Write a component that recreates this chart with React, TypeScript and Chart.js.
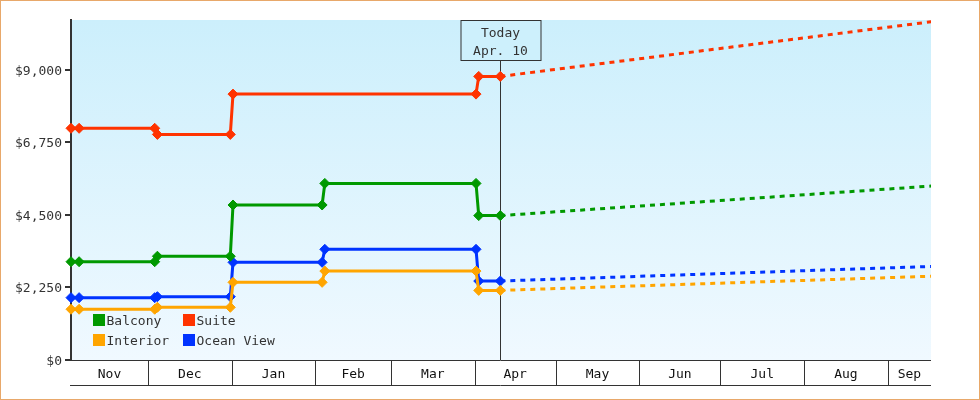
import React, { useEffect, useRef } from "react";
import { Chart, registerables } from "chart.js";
Chart.register(...registerables);

const BASE = Date.UTC(2022, 10, 1);
const toDay = (s: string) => (Date.parse(s + "T00:00:00Z") - BASE) / 864e5 + 0.5;

const seriesLabels = ["Balcony", "Suite", "Interior", "Ocean View"];
const seriesColors = ["#009900", "#FF3300", "#FFA500", "#0033FF"];

const balconyDates = ["2022-11-02", "2022-11-05", "2022-12-03", "2022-12-04", "2022-12-31", "2023-01-01", "2023-02-03", "2023-02-04", "2023-04-01", "2023-04-02", "2023-04-10"];
const balconyPrices = [3050, 3050, 3050, 3220, 3220, 4810, 4810, 5480, 5480, 4480, 4480];

const suiteDates = ["2022-11-02", "2022-11-05", "2022-12-03", "2022-12-04", "2022-12-31", "2023-01-01", "2023-04-01", "2023-04-02", "2023-04-10"];
const suitePrices = [7190, 7190, 7190, 7000, 7000, 8250, 8250, 8800, 8800];

const interiorDates = ["2022-11-02", "2022-11-05", "2022-12-03", "2022-12-04", "2022-12-31", "2023-01-01", "2023-02-03", "2023-02-04", "2023-04-01", "2023-04-02", "2023-04-10"];
const interiorPrices = [1575, 1575, 1575, 1635, 1635, 2410, 2410, 2760, 2760, 2160, 2160];

const oceanDates = ["2022-11-02", "2022-11-05", "2022-12-03", "2022-12-04", "2022-12-31", "2023-01-01", "2023-02-03", "2023-02-04", "2023-04-01", "2023-04-02", "2023-04-10"];
const oceanPrices = [1935, 1935, 1935, 1965, 1965, 3030, 3030, 3435, 3435, 2450, 2450];

const forecastDates = ["2023-04-10", "2023-09-17"];
const balconyForecast = [4480, 5400];
const suiteForecast = [8800, 10500];
const interiorForecast = [2160, 2600];
const oceanForecast = [2450, 2905];

const monthLabels = ["Nov", "Dec", "Jan", "Feb", "Mar", "Apr", "May", "Jun", "Jul", "Aug", "Sep"];
const monthStarts = ["2022-11-01", "2022-12-01", "2023-01-01", "2023-02-01", "2023-03-01", "2023-04-01", "2023-05-01", "2023-06-01", "2023-07-01", "2023-08-01", "2023-09-01", "2023-10-01"];

const yTicks = [0, 2250, 4500, 6750, 9000];
const yMax = 10550;
const xMin = toDay("2022-11-02");
const xMax = toDay("2023-09-16") + 0.5;
const todayDate = "2023-04-10";
const todayLines = ["Today", "Apr. 10"];

const FONT = "DejaVu Sans Mono";
const TEXT = "#333333";

const pts = (dates: string[], vals: number[]) => dates.map((d, i) => ({ x: toDay(d), y: vals[i] }));

export default function App() {
  const ref = useRef<HTMLCanvasElement | null>(null);
  useEffect(() => {
    document.body.style.margin = "0";
    const canvas = ref.current!;
    const boundaries = monthStarts.map((d) => toDay(d) - 0.5);
    const mids = monthLabels.map((_, i) => {
      const a = Math.max(boundaries[i], xMin);
      const b = Math.min(boundaries[i + 1], xMax);
      return (a + b) / 2;
    });

    const mainSets = [
      pts(balconyDates, balconyPrices),
      pts(suiteDates, suitePrices),
      pts(interiorDates, interiorPrices),
      pts(oceanDates, oceanPrices),
    ];
    const fcSets = [
      pts(forecastDates, balconyForecast),
      pts(forecastDates, suiteForecast),
      pts(forecastDates, interiorForecast),
      pts(forecastDates, oceanForecast),
    ];

    const datasets: any[] = [];
    mainSets.forEach((data, i) => {
      datasets.push({
        label: seriesLabels[i],
        data,
        borderColor: seriesColors[i],
        backgroundColor: seriesColors[i],
        borderWidth: 3,
        pointStyle: "rectRot",
        pointRadius: 5,
        pointBorderWidth: 1,
        pointBorderColor: seriesColors[i],
        tension: 0,
        fill: false,
        clip: 8,
      });
    });
    fcSets.forEach((data, i) => {
      datasets.push({
        label: seriesLabels[i] + " forecast",
        data,
        borderColor: seriesColors[i],
        backgroundColor: seriesColors[i],
        borderWidth: 3,
        borderDash: [5, 5],
        pointRadius: 0,
        tension: 0,
        fill: false,
      });
    });

    const bgPlugin = {
      id: "bg",
      beforeDraw(chart: any) {
        const { ctx, chartArea: ca, width, height } = chart;
        ctx.save();
        ctx.fillStyle = "#ffffff";
        ctx.fillRect(0, 0, width, height);
        const g = ctx.createLinearGradient(0, ca.top, 0, ca.bottom);
        g.addColorStop(0, "#CCEFFC");
        g.addColorStop(1, "#F0F9FF");
        ctx.fillStyle = g;
        ctx.fillRect(ca.left, ca.top, ca.right - ca.left, ca.bottom - ca.top);
        ctx.strokeStyle = "#E8A86A";
        ctx.lineWidth = 1;
        ctx.strokeRect(0.5, 0.5, width - 1, height - 1);
        ctx.restore();
      },
    };

    const bandPlugin = {
      id: "band",
      afterDraw(chart: any) {
        const { ctx, chartArea: ca } = chart;
        const xs = chart.scales.x;
        const top = Math.round(ca.bottom) + 0.5;
        const bot = top + 25;
        ctx.save();
        ctx.strokeStyle = TEXT;
        ctx.lineWidth = 1;
        ctx.beginPath();
        ctx.moveTo(ca.left - 1, top);
        ctx.lineTo(ca.right, top);
        ctx.moveTo(ca.left - 1, bot);
        ctx.lineTo(ca.right, bot);
        boundaries.forEach((b) => {
          if (b > xMin && b < xMax) {
            const px = Math.round(xs.getPixelForValue(b)) + 0.5;
            ctx.moveTo(px, top);
            ctx.lineTo(px, bot);
          }
        });
        ctx.stroke();
        ctx.restore();
      },
    };

    const todayPlugin = {
      id: "today",
      beforeDatasetsDraw(chart: any) {
        const { ctx, chartArea: ca } = chart;
        const x = Math.round(chart.scales.x.getPixelForValue(toDay(todayDate))) + 0.5;
        const boxW = 80;
        const boxH = 40;
        const bx = Math.round(x - boxW / 2);
        const by = Math.round(ca.top) + 0.5;
        ctx.save();
        ctx.strokeStyle = TEXT;
        ctx.lineWidth = 1;
        ctx.beginPath();
        ctx.moveTo(x, by + boxH);
        ctx.lineTo(x, ca.bottom);
        ctx.stroke();
        ctx.fillStyle = "#CDF0FC";
        ctx.fillRect(bx, by, boxW, boxH);
        ctx.strokeRect(bx, by, boxW, boxH);
        ctx.fillStyle = TEXT;
        ctx.font = `13px "${FONT}"`;
        ctx.textAlign = "center";
        ctx.textBaseline = "middle";
        ctx.fillText(todayLines[0], x, by + 13.5);
        ctx.fillText(todayLines[1], x, by + 31);
        ctx.restore();
      },
    };

    const legendPlugin = {
      id: "customLegend",
      afterDatasetsDraw(chart: any) {
        const { ctx, chartArea: ca } = chart;
        ctx.save();
        ctx.font = `13px "${FONT}"`;
        ctx.textBaseline = "middle";
        ctx.textAlign = "left";
        for (let i = 0; i < 4; i++) {
          const col = i % 2;
          const row = Math.floor(i / 2);
          const x = ca.left + 22 + col * 90;
          const y = ca.bottom - 40 + row * 20;
          ctx.fillStyle = seriesColors[i];
          ctx.fillRect(x, y - 6, 12, 12);
          ctx.fillStyle = TEXT;
          ctx.fillText(seriesLabels[i], x + 13.5, y + 1.5);
        }
        ctx.restore();
      },
    };

    const chart = new Chart(canvas, {
      type: "line",
      data: { datasets },
      options: {
        animation: false,
        responsive: false,
        devicePixelRatio: 1,
        layout: { padding: { top: 20, right: 49, bottom: 15, left: 0 } },
        plugins: { legend: { display: false }, tooltip: { enabled: false } },
        scales: {
          x: {
            type: "linear",
            min: xMin,
            max: xMax,
            afterBuildTicks: (s: any) => {
              s.ticks = mids.map((v) => ({ value: v }));
            },
            afterFit: (s: any) => {
              s.height = 25;
            },
            grid: { display: false, drawTicks: false },
            border: { display: false },
            ticks: {
              autoSkip: false,
              maxRotation: 0,
              padding: 7,
              color: "#111",
              font: { family: FONT, size: 13 },
              callback: (_v: any, i: number) => monthLabels[i],
            },
          },
          y: {
            type: "linear",
            min: 0,
            max: yMax,
            afterBuildTicks: (s: any) => {
              s.ticks = yTicks.map((v) => ({ value: v }));
            },
            afterFit: (s: any) => {
              s.width = 71;
            },
            grid: { drawOnChartArea: false, color: TEXT, lineWidth: 2, tickLength: 6 },
            border: { display: true, color: TEXT, width: 2 },
            ticks: {
              padding: 3,
              labelOffset: 1.5,
              color: TEXT,
              font: { family: FONT, size: 13 },
              callback: (v: any) => "$" + Number(v).toLocaleString("en-US"),
            },
          },
        },
      },
      plugins: [bgPlugin, todayPlugin, legendPlugin, bandPlugin],
    } as any);
    return () => chart.destroy();
  }, []);
  return (
    <div style={{ width: 980, height: 400 }}>
      <canvas ref={ref} width={980} height={400} style={{ display: "block" }} />
    </div>
  );
}
